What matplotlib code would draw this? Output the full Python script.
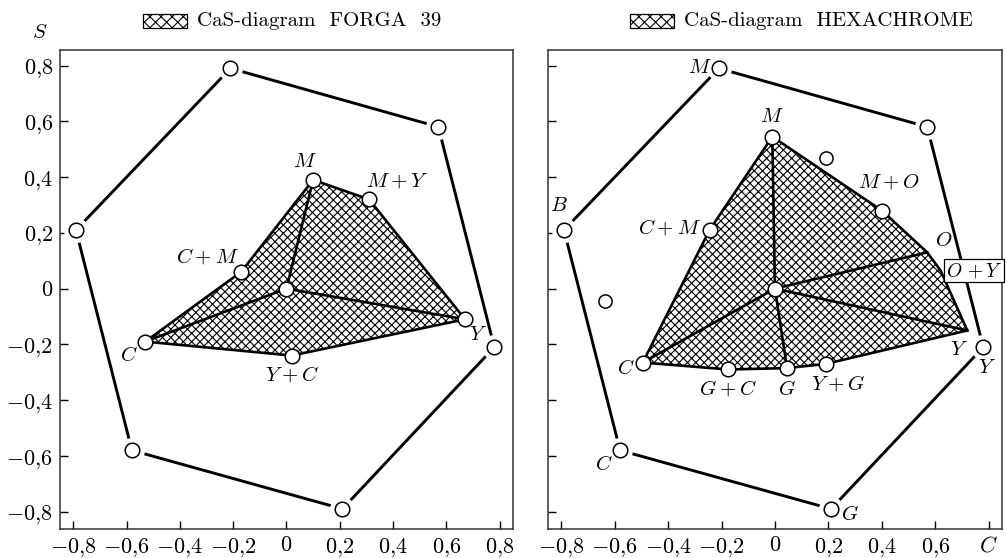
import matplotlib
matplotlib.use("Agg")
import matplotlib.pyplot as plt
from matplotlib.patches import Polygon, Rectangle

plt.rcParams['mathtext.fontset'] = 'cm'
plt.rcParams['font.family'] = ['cmr10', 'DejaVu Serif']
plt.rcParams['axes.formatter.use_mathtext'] = True
plt.rcParams['hatch.linewidth'] = 0.8

# reference gamut (hexagon), same on both panels
outer_c = [-0.21, 0.57, 0.78, 0.21, -0.58, -0.79]
outer_s = [0.79, 0.58, -0.21, -0.79, -0.58, 0.21]
outer_names_right = ["M", "", "Y", "G", "C", "B"]

# FORGA 39
forga_c = [0.10, 0.31, 0.67, 0.02, -0.53, -0.17]
forga_s = [0.39, 0.32, -0.11, -0.24, -0.19, 0.06]
forga_names = ["M", "M + Y", "Y", "Y + C", "C", "C + M"]
forga_spokes = [0, 2, 4]          # polygon vertices joined to the centre
forga_circles = [0, 1, 2, 3, 4, 5]

# HEXACHROME
hexa_c = [-0.01, 0.40, 0.57, 0.62, 0.72, 0.19, 0.045, -0.175, -0.495, -0.245]
hexa_s = [0.545, 0.28, 0.13, 0.065, -0.15, -0.27, -0.285, -0.29, -0.265, 0.21]
hexa_names = ["M", "M + O", "O", "O + Y", "Y", "Y + G", "G", "G + C", "C", "C + M"]
hexa_spokes = [0, 2, 4, 6, 8]
hexa_circles = [0, 1, 5, 6, 7, 8, 9]
extra_c = [0.19, -0.635]
extra_s = [0.47, -0.045]

ticks = [-0.8, -0.6, -0.4, -0.2, 0, 0.2, 0.4, 0.6, 0.8]


def fmt(v):
    if v == 0:
        return "$0$"
    return "$" + f"{v:.1f}".replace(".", "{,}") + "$"


def mlabel(n):
    return "$" + n.replace(" + ", r"\:+\:") + "$"


fig = plt.figure(figsize=(10.06, 5.58), dpi=100)
axL = fig.add_axes([0.0596, 0.052, 0.4503, 0.858])
axR = fig.add_axes([0.5447, 0.052, 0.4513, 0.858])


def draw_outer(ax):
    xs = outer_c + outer_c[:1]
    ys = outer_s + outer_s[:1]
    ax.plot(xs, ys, color="black", lw=2.1, solid_capstyle="butt", zorder=2)
    ax.plot(outer_c, outer_s, ls="none", marker="o", ms=17, mfc="white",
            mec="white", zorder=3)
    ax.plot(outer_c, outer_s, ls="none", marker="o", ms=10.5, mfc="white",
            mec="black", mew=1.1, zorder=4)


def draw_inner(ax, cs, ss, spokes, circles):
    poly = Polygon(list(zip(cs, ss)), closed=True, facecolor="white",
                   edgecolor="black", hatch="xxxx", lw=1.9, zorder=5)
    ax.add_patch(poly)
    for i in spokes:
        ax.plot([0, cs[i]], [0, ss[i]], color="black", lw=1.9, zorder=6)
    ax.plot([cs[i] for i in circles] + [0], [ss[i] for i in circles] + [0],
            ls="none", marker="o", ms=10.5, mfc="white", mec="black",
            mew=1.1, zorder=7)


def setup(ax, ylabels):
    ax.set_xlim(-0.85, 0.85)
    ax.set_ylim(-0.862, 0.855)
    ax.set_xticks(ticks)
    ax.set_yticks(ticks)
    ax.tick_params(direction="in", length=6, width=1.0, labelsize=16,
                   pad=5, top=False, right=False)
    ax.set_yticklabels([fmt(t) for t in ticks] if ylabels else [])
    for sp in ax.spines.values():
        sp.set_linewidth(1.1)
        sp.set_color("#333333")


lbl = dict(fontsize=15, ha="center", va="center", zorder=8)

# left panel
setup(axL, True)
axL.set_xticklabels([fmt(t) for t in ticks])
draw_outer(axL)
draw_inner(axL, forga_c, forga_s, forga_spokes, forga_circles)
offL = [(-0.03, 0.065), (0.105, 0.064), (0.05, -0.055), (0.0, -0.07),
        (-0.06, -0.05), (-0.127, 0.054)]
for c, s, n, (dx, dy) in zip(forga_c, forga_s, forga_names, offL):
    axL.text(c + dx, s + dy, mlabel(n), **lbl)
axL.text(-0.044, 1.017, "$S$", transform=axL.transAxes, fontsize=15,
         ha="center", va="bottom")

# right panel
setup(axR, False)
axR.set_xticklabels([fmt(t) for t in ticks[:-1]] + ["$C$"])
draw_outer(axR)
offOut = [(-0.07, 0.0), (0, 0), (0.015, -0.075), (0.07, -0.02), (-0.06, -0.05),
          (-0.02, 0.085)]
for c, s, n, (dx, dy) in zip(outer_c, outer_s, outer_names_right, offOut):
    if n:
        axR.text(c + dx, s + dy, mlabel(n), **lbl)
axR.plot(extra_c, extra_s, ls="none", marker="o", ms=9.5, mfc="white",
         mec="black", mew=1.1, zorder=4)
draw_inner(axR, hexa_c, hexa_s, hexa_spokes, hexa_circles)
offR = [(0.0, 0.07), (0.025, 0.1), (0.06, 0.04), None, (-0.03, -0.07),
        (0.045, -0.07), (0.0, -0.075), (0.0, -0.07), (-0.065, -0.02),
        (-0.15, 0.01)]
for c, s, n, off in zip(hexa_c, hexa_s, hexa_names, offR):
    if off is None:
        continue
    axR.text(c + off[0], s + off[1], mlabel(n), **lbl)
axR.text(0.745, 0.064, r"$O\,+Y$", fontsize=14, ha="center", va="center",
         zorder=9, bbox=dict(boxstyle="square,pad=0.1", fc="white",
                             ec="black", lw=0.9))


def title(xpatch, text):
    fig.add_artist(Rectangle((xpatch / 1006, 1 - 28 / 558), 44 / 1006, 14 / 558,
                             transform=fig.transFigure, facecolor="white",
                             edgecolor="black", hatch="xxx", lw=0.9))
    fig.text((xpatch + 54) / 1006, 1 - 21 / 558, text, fontsize=15,
             ha="left", va="center")


title(143, "CaS-diagram  FORGA  39")
title(630, "CaS-diagram  HEXACHROME")

fig.savefig("out.png", dpi=100)
